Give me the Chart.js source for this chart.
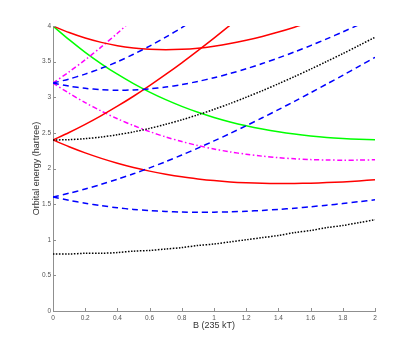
<!DOCTYPE html>
<html>
<head>
<meta charset="utf-8">
<script src="https://cdn.jsdelivr.net/npm/chart.js@4"></script>
<style>
html,body{margin:0;padding:0;background:#fff;}
</style>
</head>
<body>
<canvas id="levels" width="415" height="350"></canvas>
<script>
/* =========================
   DATA
========================= */
const B = [0,0.1,0.2,0.3,0.4,0.5,0.6,0.7,0.8,0.9,1.0,1.1,1.2,1.3,1.4,1.5,1.6,1.7,1.8,1.9,2.0];

const xTicks = [0,0.2,0.4,0.6,0.8,1,1.2,1.4,1.6,1.8,2];
const yTicks = [0,0.5,1,1.5,2,2.5,3,3.5,4];

// black dotted
const black0 = [0.80,0.80,0.81,0.81,0.82,0.84,0.85,0.87,0.89,0.92,0.94,0.97,1.00,1.03,1.06,1.10,1.13,1.17,1.20,1.24,1.28];
const black1 = [2.400,2.405,2.419,2.442,2.474,2.514,2.563,2.620,2.683,2.754,2.830,2.912,3.000,3.092,3.189,3.290,3.394,3.502,3.612,3.726,3.842];

// blue dashed
const blueA = [1.600,1.553,1.512,1.478,1.449,1.426,1.409,1.396,1.389,1.386,1.387,1.392,1.400,1.412,1.426,1.443,1.463,1.485,1.508,1.534,1.561];
const blueB = [1.600,1.653,1.712,1.778,1.849,1.926,2.009,2.096,2.189,2.286,2.387,2.492,2.600,2.712,2.826,2.943,3.063,3.185,3.308,3.434,3.561];
const blueC = [3.200,3.156,3.125,3.106,3.098,3.103,3.118,3.143,3.178,3.222,3.274,3.333,3.400,3.473,3.552,3.636,3.725,3.819,3.917,4.018];
const blueD = [3.200,3.256,3.325,3.406,3.498,3.603,3.718,3.843,3.978,4.122];

// red solid
const redA = [2.400,2.305,2.219,2.142,2.074,2.014,1.963,1.920,1.883,1.854,1.830,1.812,1.800,1.792,1.789,1.790,1.794,1.802,1.812,1.826,1.842];
const redB = [2.400,2.505,2.619,2.742,2.874,3.014,3.163,3.320,3.483,3.654,3.830,4.012];
const redC = [4.000,3.908,3.831,3.770,3.723,3.691,3.672,3.666,3.672,3.689,3.717,3.754,3.800,3.854,3.915,3.983,4.057];
const redD = [4.000,4.108];

// magenta dash-dot
const magA = [3.200,3.056,2.925,2.806,2.698,2.603,2.518,2.443,2.378,2.322,2.274,2.233,2.200,2.173,2.152,2.136,2.125,2.119,2.117,2.118,2.122];
const magB = [3.200,3.356,3.525,3.706,3.898,4.103];

// green solid
const green = [4.000,3.808,3.631,3.470,3.323,3.191,3.072,2.966,2.872,2.789,2.717,2.654,2.600,2.554,2.515,2.483,2.457,2.436,2.421,2.410,2.403];

/* =========================
   HELPERS
========================= */
const DOT = [1.5,1.5];
const DASH = [6,4];
const DASHDOT = [5,2.5,1.5,2.5];

function line(ys, color, dash){
    return {
        data: ys.map((y,i) => ({x: B[i], y: y})),
        borderColor: color,
        borderWidth: 1.5,
        borderDash: dash || [],
        pointRadius: 0,
        fill: false,
        tension: 0.3,
        clip: 0
    };
}

function fmt(v){
    return String(Number(v.toFixed(1)));
}

// small tick marks drawn inside the axes, like matlab
const inTicks = {
    id: 'inTicks',
    afterDraw(chart){
        const ctx = chart.ctx, a = chart.chartArea;
        const sx = chart.scales.x, sy = chart.scales.y;
        ctx.save();
        ctx.strokeStyle = '#8f8f8f';
        ctx.lineWidth = 1;
        ctx.beginPath();
        xTicks.forEach(v => {
            let px = Math.round(sx.getPixelForValue(v)) + 0.5;
            ctx.moveTo(px, a.bottom);
            ctx.lineTo(px, a.bottom - 3);
        });
        yTicks.forEach(v => {
            let py = Math.round(sy.getPixelForValue(v)) + 0.5;
            ctx.moveTo(a.left, py);
            ctx.lineTo(a.left + 3, py);
        });
        ctx.stroke();
        ctx.restore();
    }
};

/* =========================
   CHART
========================= */
const chart = new Chart(document.getElementById('levels'), {
    type: 'line',
    data: {
        datasets: [
            line(black0, '#000000', DOT),
            line(black1, '#000000', DOT),
            line(blueA, '#0000ff', DASH),
            line(blueB, '#0000ff', DASH),
            line(blueC, '#0000ff', DASH),
            line(blueD, '#0000ff', DASH),
            line(redA, '#ff0000'),
            line(redB, '#ff0000'),
            line(redC, '#ff0000'),
            line(redD, '#ff0000'),
            line(magA, '#ff00ff', DASHDOT),
            line(magB, '#ff00ff', DASHDOT),
            line(green, '#00ff00')
        ]
    },
    options: {
        responsive: false,
        animation: false,
        devicePixelRatio: 1,
        elements: { line: { capBezierPoints: false } },
        layout: { padding: { left: 28, right: 40, top: 26, bottom: 14 } },
        plugins: {
            legend: { display: false },
            tooltip: { enabled: false }
        },
        scales: {
            x: {
                type: 'linear',
                min: 0, max: 2,
                afterBuildTicks: s => { s.ticks = xTicks.map(v => ({value: v})); },
                afterFit: s => { s.height = 25; },
                grid: { display: false, drawTicks: false, tickLength: 0 },
                border: { color: '#8f8f8f', width: 1 },
                ticks: {
                    color: '#555',
                    font: { family: 'Liberation Sans', size: 6.5 },
                    padding: 3,
                    maxRotation: 0,
                    autoSkip: false,
                    callback: v => fmt(v)
                },
                title: {
                    display: true,
                    text: 'B (235 kT)',
                    color: '#333',
                    font: { family: 'Liberation Sans', size: 9 },
                    padding: { top: 2, bottom: 5 }
                }
            },
            y: {
                min: 0, max: 4,
                afterBuildTicks: s => { s.ticks = yTicks.map(v => ({value: v})); },
                afterFit: s => { s.width = 25; },
                grid: { display: false, drawTicks: false, tickLength: 0 },
                border: { color: '#8f8f8f', width: 1 },
                ticks: {
                    color: '#555',
                    font: { family: 'Liberation Sans', size: 6.5 },
                    padding: 2,
                    autoSkip: false,
                    callback: v => fmt(v)
                },
                title: {
                    display: true,
                    text: 'Orbital energy (hartree)',
                    color: '#333',
                    font: { family: 'Liberation Sans', size: 9 },
                    padding: { top: 3, bottom: 2 }
                }
            }
        }
    },
    plugins: [inTicks]
});
</script>
</body>
</html>
